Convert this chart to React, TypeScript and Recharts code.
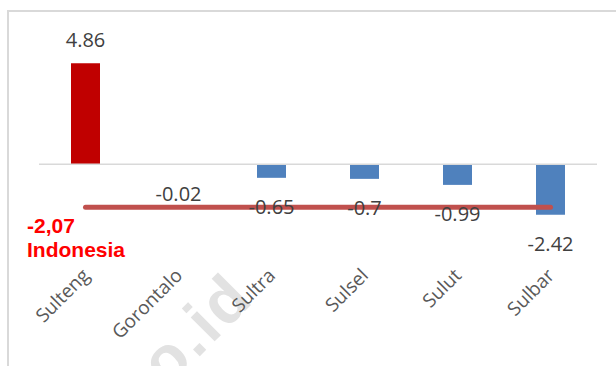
import React from 'react';
import { ComposedChart, Bar, Line, XAxis, YAxis, ReferenceLine, Cell, LabelList } from 'recharts';

const regions = ['Sulteng', 'Gorontalo', 'Sultra', 'Sulsel', 'Sulut', 'Sulbar'];
const growth = [4.86, -0.02, -0.65, -0.7, -0.99, -2.42];
const nationalGrowth = -2.07;
const nationalLabel = ['-2,07', 'Indonesia'];

const HIGHLIGHT = '#c00000';
const BAR_BLUE = '#4f81bd';
const NATIONAL_RED = '#c0504d';

const data = regions.map((region, i) => ({
  region,
  value: growth[i],
  national: nationalGrowth,
}));

const RegionTick = (props: any) => {
  const { x, y, payload } = props;
  return (
    <text
      transform={`translate(${x + 5},${y + 44}) rotate(-45)`}
      textAnchor="end"
      fill="#595959"
      fontSize={19}
      fontFamily="'Open Sans', sans-serif"
    >
      {payload.value}
    </text>
  );
};

// value text sits above positive bars and below negative ones
const renderValueLabel = (props: any) => {
  const { x, y, value } = props;
  const dy = value >= 0 ? -24 : 29;
  return (
    <text
      x={x}
      y={y + dy}
      textAnchor="middle"
      dominantBaseline="central"
      fill="#404040"
      fontSize={20}
      fontFamily="'Open Sans', sans-serif"
    >
      {value}
    </text>
  );
};

export default function App() {
  return (
    <div style={{ position: 'absolute', left: 0, top: 0, width: 616, height: 366, background: '#fff', overflow: 'hidden' }}>
      <div
        style={{
          position: 'absolute',
          left: 7,
          top: 10,
          width: 700,
          height: 400,
          borderTop: '2px solid #d9d9d9',
          borderLeft: '2px solid #d9d9d9',
        }}
      />
      <svg width={616} height={366} style={{ position: 'absolute', left: 0, top: 0 }}>
        <text
          transform="translate(256,300) rotate(-45)"
          textAnchor="end"
          fill="#e2e2e2"
          fontSize={64}
          fontWeight="bold"
          letterSpacing={3}
          fontFamily="'Liberation Sans', Arial, sans-serif"
        >
          o.id
        </text>
      </svg>
      <div style={{ position: 'absolute', left: 0, top: 0 }}>
        <ComposedChart
          width={616}
          height={366}
          data={data}
          margin={{ top: 39.5, right: 19, bottom: 39.3, left: 39 }}
        >
          <XAxis
            dataKey="region"
            tick={<RegionTick />}
            tickLine={false}
            axisLine={false}
            interval={0}
            tickMargin={0}
            height={100}
          />
          <YAxis hide domain={[-3, 6]} />
          <ReferenceLine y={0} stroke="#d9d9d9" strokeWidth={1.5} />
          <Bar dataKey="value" barSize={29} isAnimationActive={false}>
            {data.map((d, i) => (
              <Cell key={d.region} fill={i === 0 ? HIGHLIGHT : BAR_BLUE} />
            ))}
          </Bar>
          <Line
            dataKey="national"
            stroke={NATIONAL_RED}
            strokeWidth={5}
            strokeLinecap="round"
            dot={false}
            activeDot={false}
            isAnimationActive={false}
          />
          <Line dataKey="value" stroke="none" dot={false} activeDot={false} isAnimationActive={false}>
            <LabelList dataKey="value" content={renderValueLabel} />
          </Line>
        </ComposedChart>
      </div>
      <div
        style={{
          position: 'absolute',
          left: 27,
          top: 214,
          color: '#ff0000',
          fontFamily: "'Liberation Sans', Arial, sans-serif",
          fontWeight: 'bold',
          fontSize: 21,
          lineHeight: '24px',
        }}
      >
        {nationalLabel.map((t) => (
          <div key={t}>{t}</div>
        ))}
      </div>
    </div>
  );
}
